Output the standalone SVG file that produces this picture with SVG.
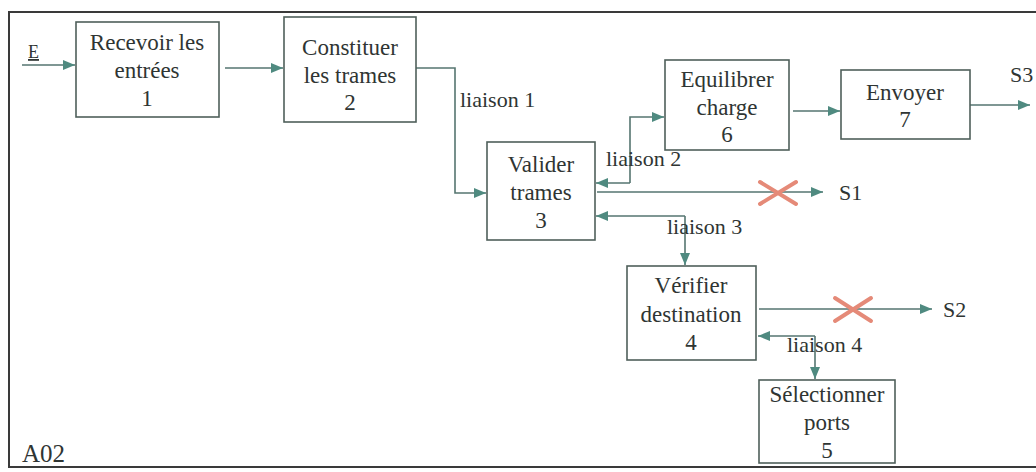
<svg xmlns="http://www.w3.org/2000/svg" width="1036" height="472" viewBox="0 0 1036 472">
<defs>
<style>
.box{fill:#ffffff;stroke:#4f5f5a;stroke-width:1.6}
.t{font-family:'Liberation Serif','DejaVu Serif',serif;font-size:23px;fill:#2f3533;text-anchor:middle}
.l{font-family:'Liberation Serif','DejaVu Serif',serif;font-size:22px;fill:#2f3533}
.c{fill:none;stroke:#557570;stroke-width:1.6}
.x{stroke:#e58a78;stroke-width:4;stroke-linecap:round}
</style>
<marker id="ah" viewBox="0 0 12 10" refX="12" refY="5" markerWidth="12" markerHeight="10" markerUnits="userSpaceOnUse" orient="auto">
<path d="M0,0 L12,5 L0,10 Z" fill="#4f8a80"/>
</marker>
</defs>
<rect width="1036" height="472" fill="#ffffff"/>
<path d="M1036,12 L9,12 L9,467 L1036,467" fill="none" stroke="#3a3a3a" stroke-width="2"/>
<text class="l" x="22" y="462" style="font-size:25px">A02</text>

<g id="connectors">
<line class="c" x1="22" y1="65" x2="75" y2="65" marker-end="url(#ah)"/>
<text class="l" x="28" y="58" style="font-size:18px" text-decoration="underline">E</text>
<line class="c" x1="225" y1="68" x2="283" y2="68" marker-end="url(#ah)"/>
<polyline class="c" points="416,68 455,68 455,193 486,193" marker-end="url(#ah)"/>
<text class="l" x="460" y="107">liaison 1</text>
<polyline class="c" points="630,183 630,117 664,117" marker-end="url(#ah)"/>
<line class="c" x1="630" y1="183" x2="596" y2="183" marker-end="url(#ah)"/>
<text class="l" x="606" y="166">liaison 2</text>
<line class="c" x1="597" y1="192" x2="823" y2="192" marker-end="url(#ah)"/>
<line class="x" x1="760" y1="182" x2="796" y2="204"/>
<line class="x" x1="760" y1="204" x2="796" y2="182"/>
<text class="l" x="839" y="200">S1</text>
<line class="c" x1="685" y1="216" x2="596" y2="216" marker-end="url(#ah)"/>
<line class="c" x1="685" y1="216" x2="685" y2="265" marker-end="url(#ah)"/>
<text class="l" x="667" y="234">liaison 3</text>
<line class="c" x1="759" y1="309" x2="932" y2="309" marker-end="url(#ah)"/>
<line class="x" x1="835" y1="298" x2="871" y2="321"/>
<line class="x" x1="835" y1="321" x2="871" y2="298"/>
<text class="l" x="943" y="317">S2</text>
<line class="c" x1="815" y1="336" x2="758" y2="336" marker-end="url(#ah)"/>
<line class="c" x1="815" y1="336" x2="815" y2="379" marker-end="url(#ah)"/>
<text class="l" x="787" y="352">liaison 4</text>
<line class="c" x1="793" y1="111" x2="840" y2="111" marker-end="url(#ah)"/>
<line class="c" x1="970" y1="105" x2="1030" y2="105" marker-end="url(#ah)"/>
<text class="l" x="1010" y="82">S3</text>
</g>

<g id="n1">
<rect class="box" x="76" y="22" width="143" height="95"/>
<text class="t" x="147" y="50">Recevoir les</text>
<text class="t" x="147" y="78">entrées</text>
<text class="t" x="147" y="106">1</text>
</g>
<g id="n2">
<rect class="box" x="284" y="17" width="132" height="105"/>
<text class="t" x="350" y="55">Constituer</text>
<text class="t" x="350" y="83">les trames</text>
<text class="t" x="350" y="110">2</text>
</g>
<g id="n3">
<rect class="box" x="487" y="142" width="108" height="98"/>
<text class="t" x="541" y="172">Valider</text>
<text class="t" x="541" y="200">trames</text>
<text class="t" x="541" y="228">3</text>
</g>
<g id="n6">
<rect class="box" x="665" y="60" width="124" height="90"/>
<text class="t" x="727" y="87">Equilibrer</text>
<text class="t" x="727" y="115">charge</text>
<text class="t" x="727" y="142">6</text>
</g>
<g id="n7">
<rect class="box" x="841" y="70" width="129" height="69"/>
<text class="t" x="905" y="100">Envoyer</text>
<text class="t" x="905" y="127">7</text>
</g>
<g id="n4">
<rect class="box" x="627" y="266" width="129" height="94"/>
<text class="t" x="691" y="293">Vérifier</text>
<text class="t" x="691" y="322">destination</text>
<text class="t" x="691" y="350">4</text>
</g>
<g id="n5">
<rect class="box" x="759" y="380" width="136" height="83"/>
<text class="t" x="827" y="402">Sélectionner</text>
<text class="t" x="827" y="430">ports</text>
<text class="t" x="827" y="458">5</text>
</g>
</svg>
